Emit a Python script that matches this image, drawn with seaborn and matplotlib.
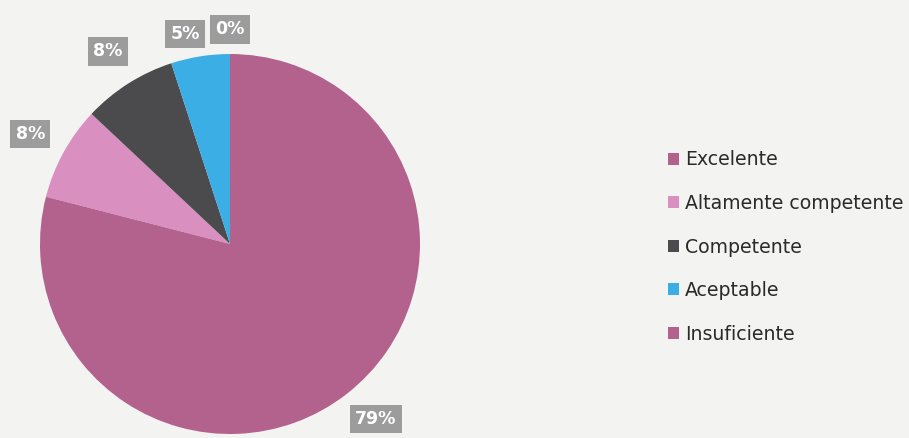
import numpy as np
import matplotlib
matplotlib.use("Agg")
import matplotlib.pyplot as plt
import seaborn as sns

categories = ["Excelente", "Altamente competente", "Competente", "Aceptable", "Insuficiente"]
percent = [0, 8, 8, 5, 79]
colors = ["#b3628d", "#d98fc0", "#4b4a4c", "#3caee6", "#b3628d"]

BG = "#f3f3f1"


def main() -> None:
    sns.set_theme(style="white")
    plt.rcParams["font.family"] = ["DejaVu Sans"]

    fig = plt.figure(figsize=(9.09, 4.38), dpi=100, facecolor=BG)
    ax = fig.add_axes([0, 0, 1, 1])
    ax.set_facecolor(BG)

    # pie drawn in pixel-like units so it sits where the reference has it
    cx, cy, r = 230, 194, 190
    # clockwise, the categories before "Insuficiente" end at 12 o'clock
    start = 90 + sum(percent[:-1]) / 100 * 360
    wedges, _ = ax.pie(percent, colors=colors, startangle=start, counterclock=False,
                       radius=r, center=(cx, cy), frame=True,
                       wedgeprops={"linewidth": 0})

    for w, p in zip(wedges, percent):
        mid = (w.theta1 + w.theta2) / 2
        dist = 1.2
        if p == 0:
            mid, dist = 90, 1.13
        elif mid > 95 and mid < 110:
            mid, dist = mid + 3, 1.13
        elif mid < 0:
            mid = mid + 2
        x = cx + dist * r * np.cos(np.radians(mid))
        y = cy + dist * r * np.sin(np.radians(mid))
        ax.text(x, y, f"{p}%", ha="center", va="center", fontsize=12.5,
                fontweight="bold", color="white",
                bbox=dict(boxstyle="square,pad=0.3", facecolor="#9c9c9c", edgecolor="none"))

    ax.set_xlim(0, 909)
    ax.set_ylim(0, 438)
    ax.set_aspect("equal")
    ax.axis("off")

    fig.legend(handles=wedges, labels=categories, loc="center left",
               bbox_to_anchor=(0.716, 0.436), frameon=False, fontsize=13.6,
               handlelength=0.6, handleheight=0.6, handletextpad=0.3,
               labelspacing=1.3, labelcolor="#2a2a2a")

    fig.savefig("out.png", dpi=100, facecolor=BG)
    plt.close(fig)


if __name__ == "__main__":
    main()
